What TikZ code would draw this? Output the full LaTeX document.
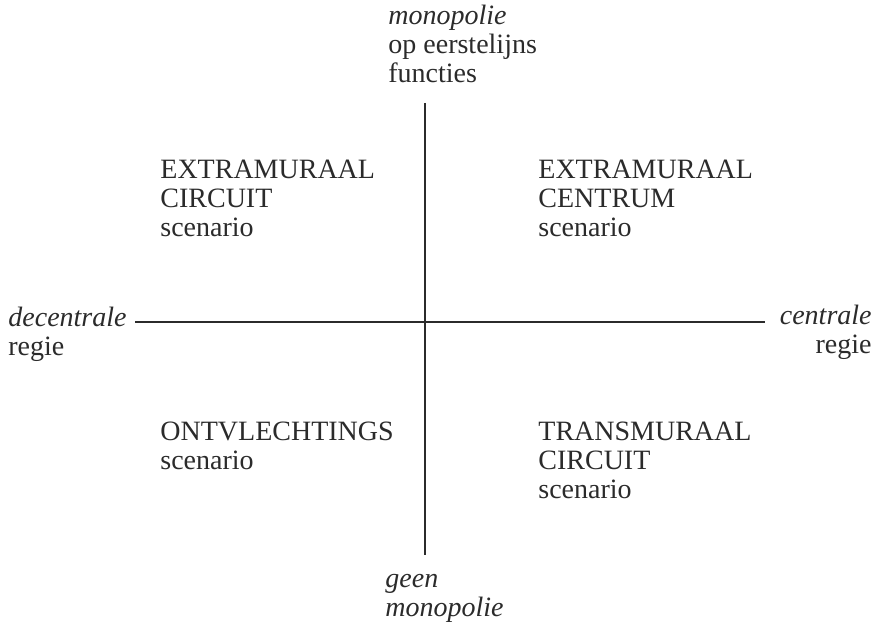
\documentclass[tikz,border=0pt]{standalone}
\usepackage{fontspec}
\setmainfont{Liberation Serif}
\usetikzlibrary{positioning}
\definecolor{ink}{HTML}{2B2B2B}
\tikzset{
  label/.style={
    inner sep=0pt,
    anchor=north west,
    align=left,
    text=ink,
    font=\fontsize{14}{14.5}\selectfont
  },
  rlabel/.style={
    label,
    anchor=north east,
    align=right
  },
  axis/.style={
    draw=ink,
    line width=1.1pt
  }
}
\begin{document}
\begin{tikzpicture}[x=0.5pt,y=-0.5pt]
  \useasboundingbox (0,0) rectangle (884,625);

  \coordinate (ytop) at (425,103);
  \coordinate (ybot) at (425,555);
  \coordinate (xleft) at (135,322);
  \coordinate (xright) at (765,322);
  \draw[axis] (xleft) -- (xright);
  \draw[axis] (ytop) -- (ybot);

  % axis ends
  \node[label] (top) at (388,5) {\textit{monopolie}\\op eerstelijns\\functies};
  \node[label] (left) at (8,307) {\textit{decentrale}\\regie};
  \node[rlabel] (right) at (872,305) {\textit{centrale}\\regie};
  \node[label] (bottom) at (385,574) {\textit{geen}\\\textit{monopolie}};

  % quadrants
  \node[label] (nw) at (160,160) {EXTRAMURAAL\\CIRCUIT\\scenario};
  \node[label] (ne) at (538,160) {EXTRAMURAAL\\CENTRUM\\scenario};
  \node[label] (sw) at (160,422) {ONTVLECHTINGS\\scenario};
  \node[label] (se) at (538,422) {TRANSMURAAL\\CIRCUIT\\scenario};
\end{tikzpicture}
\end{document}
